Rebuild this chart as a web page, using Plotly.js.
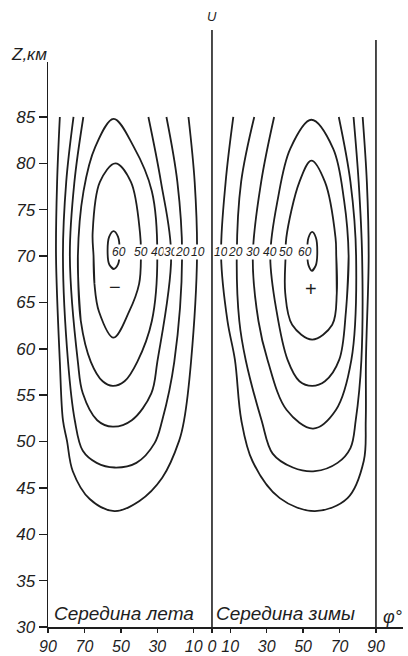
<!DOCTYPE html>
<html>
<head>
<meta charset="utf-8">
<script src="https://cdn.plot.ly/plotly-3.0.1.min.js"></script>
<style>
html,body{margin:0;padding:0;background:#fff;}
#chart{width:408px;height:656px;}
#chart .xtick text, #chart .ytick text { font-style: italic !important; }
</style>
</head>
<body>
<div id="chart"></div>
<script>
// ---- data (latitude in degrees, height Z in km) ----
// Summer hemisphere (left half, "Середина лета")
var s10_lat = [83.5, 85.0, 85.6, 83.5, 81.8, 79.6, 76.4, 67.1, 53.5, 39.8, 27.3, 18.0, 15.3, 11.5, 8.2, 9.5, 12.9];
var s10_z   = [85.0, 78.0, 70.0, 58.6, 52.3, 50.1, 46.8, 43.8, 42.5, 43.6, 46.1, 50.1, 52.3, 58.6, 70.0, 78.0, 85.0];
var s20_lat = [76.0, 80.0, 81.8, 79.0, 75.3, 70.9, 63.3, 53.5, 41.5, 31.6, 27.3, 20.7, 16.4, 19.0, 25.0];
var s20_z   = [85.0, 78.0, 70.0, 58.6, 52.3, 49.0, 47.7, 47.2, 47.7, 49.8, 52.3, 58.6, 70.0, 78.0, 85.0];
var s30_lat = [70.6, 75.5, 78.0, 73.6, 70.9, 63.0, 54.5, 44.0, 33.3, 30.0, 22.4, 28.0, 34.9];
var s30_z   = [85.0, 78.0, 70.0, 58.6, 55.2, 52.3, 51.6, 52.3, 55.2, 58.6, 70.0, 78.0, 85.0];
var s40_lat = [54.0, 64.0, 70.5, 73.6, 72.0, 66.5, 60.0, 54.5, 48.0, 41.0, 33.0, 30.0, 33.0, 43.0, 54.0];
var s40_z   = [84.8, 81.8, 77.0, 70.0, 63.0, 58.6, 56.5, 56.0, 56.5, 58.6, 63.0, 70.0, 77.0, 81.8, 84.8];
var s50_lat = [53.0, 61.5, 65.5, 65.0, 64.5, 62.0, 54.0, 45.5, 40.0, 39.0, 39.5, 44.5, 53.0];
var s50_z   = [80.0, 78.0, 72.5, 70.0, 67.0, 64.0, 61.2, 64.0, 67.0, 70.0, 72.5, 78.0, 80.0];
var s60_lat = [54.0, 56.4, 57.3, 56.4, 54.0, 51.6, 50.7, 51.6, 54.0];
var s60_z   = [72.7, 72.1, 70.6, 69.1, 68.6, 69.1, 70.6, 72.1, 72.7];

// Winter hemisphere (right half, "Середина зимы")
var w10_lat = [11.7, 7.5, 5.0, 8.5, 12.6, 16.1, 22.2, 37.2, 56.5, 74.4, 83.3, 84.4, 84.5, 86.0, 85.0, 82.7];
var w10_z   = [85.0, 78.0, 70.0, 63.0, 58.8, 52.3, 47.9, 43.9, 42.5, 43.9, 47.9, 52.3, 58.8, 70.0, 78.0, 85.0];
var w20_lat = [23.2, 16.0, 13.6, 15.0, 18.5, 27.2, 33.3, 44.4, 56.5, 68.9, 76.0, 78.9, 82.0, 82.4, 80.5, 77.7];
var w20_z   = [85.0, 78.0, 70.0, 63.0, 58.8, 52.3, 48.7, 47.2, 46.8, 47.7, 49.3, 52.3, 58.8, 70.0, 78.0, 85.0];
var w30_lat = [34.1, 27.0, 22.4, 25.5, 30.5, 41.0, 55.5, 68.0, 76.5, 79.1, 76.0, 69.6];
var w30_z   = [85.0, 78.0, 70.0, 63.0, 58.8, 53.4, 51.4, 53.4, 58.8, 70.0, 78.0, 85.0];
var w40_lat = [54.5, 66.5, 72.5, 75.0, 73.5, 69.8, 62.0, 55.0, 48.0, 41.5, 35.5, 32.0, 36.0, 43.0, 54.5];
var w40_z   = [84.7, 81.6, 76.0, 70.0, 64.0, 58.8, 56.5, 56.0, 56.5, 58.8, 64.0, 70.0, 76.0, 81.6, 84.7];
var w50_lat = [54.5, 62.0, 67.8, 68.2, 68.5, 66.0, 55.0, 44.0, 40.2, 40.4, 40.8, 48.0, 54.5];
var w50_z   = [80.3, 78.0, 72.0, 70.0, 66.0, 62.6, 61.0, 62.6, 66.0, 70.0, 72.0, 78.0, 80.3];
var w60_lat = [55.0, 57.0, 57.8, 57.0, 55.0, 53.0, 52.3, 53.0, 55.0];
var w60_z   = [72.6, 72.0, 70.5, 69.0, 68.4, 69.0, 70.5, 72.0, 72.6];

// contour labels (value, latitude) on the Z = 70.4 km level
var labelZ = 70.4;
var summerLabels = ['60', '50', '40', '30', '20', '10'];
var summerLabelLat = [51.0, 39.0, 29.7, 22.4, 16.4, 7.9];
var winterLabels = ['10', '20', '30', '40', '50', '60'];
var winterLabelLat = [4.9, 13.1, 22.4, 31.6, 40.4, 51.3];

// axis ticks
var xTickLat = [90, 70, 50, 30, 10, 0, 10, 30, 50, 70, 90];
var xTickSide = [-1, -1, -1, -1, -1, 0, 1, 1, 1, 1, 1];
var yTicks = [30, 35, 40, 45, 50, 55, 60, 65, 70, 75, 80, 85];

// ---- build the figure ----
var INK = '#1e1e1e';
var FONTW = '"Liberation Sans", Arial, sans-serif';

function curve(lat, z, side, closed) {
  var x = lat.map(function (v) { return side * v; });
  var y = z.slice();
  if (closed) {
    // start the closed loop on its steep poleward flank so the spline join is invisible
    var n = x.length - 1, s = 3, xx = [], yy = [];
    for (var i = 0; i <= n + 1; i++) { var k = (s + i) % n; xx.push(x[k]); yy.push(y[k]); }
    x = xx; y = yy;
  }
  return {type: 'scatter', mode: 'lines', x: x, y: y, hoverinfo: 'skip',
          line: {color: INK, width: 1.8, shape: 'spline', smoothing: 1}};
}

var traces = [
  curve(s10_lat, s10_z, -1, false), curve(s20_lat, s20_z, -1, false), curve(s30_lat, s30_z, -1, false),
  curve(s40_lat, s40_z, -1, true), curve(s50_lat, s50_z, -1, true), curve(s60_lat, s60_z, -1, true),
  curve(w10_lat, w10_z, 1, false), curve(w20_lat, w20_z, 1, false), curve(w30_lat, w30_z, 1, false),
  curve(w40_lat, w40_z, 1, true), curve(w50_lat, w50_z, 1, true), curve(w60_lat, w60_z, 1, true)
];

var ann = [];
function lab(text, x, y, font, extra) {
  var a = {text: text, x: x, y: y, xref: 'x', yref: 'y', showarrow: false, font: font};
  for (var k in (extra || {})) a[k] = extra[k];
  ann.push(a);
}
var labFont = {family: FONTW, size: 12, color: INK, style: 'italic'};
summerLabels.forEach(function (t, i) {
  lab(t, -summerLabelLat[i], labelZ, labFont, {bgcolor: '#ffffff', borderpad: 0});
});
winterLabels.forEach(function (t, i) {
  lab(t, winterLabelLat[i], labelZ, labFont, {bgcolor: '#ffffff', borderpad: 0});
});
lab('−', -53, 66.7, {family: FONTW, size: 20, color: INK});
lab('+', 54.6, 66.4, {family: FONTW, size: 20, color: INK});
var bigItalic = {family: FONTW, size: 19, color: INK, style: 'italic'};
lab('Середина лета', -88, 31.5, bigItalic, {xanchor: 'left'});
lab('Середина зимы', 1.2, 31.5, bigItalic, {xanchor: 'left'});
lab('φ°', 98.8, 31.1, {family: FONTW, size: 18, color: INK, style: 'italic'});
ann.push({text: 'Z,км', xref: 'paper', yref: 'paper', x: -0.054, y: 1.014,
          xanchor: 'center', yanchor: 'middle', showarrow: false,
          font: {family: FONTW, size: 17, color: INK, style: 'italic'}});
ann.push({text: 'U', xref: 'x', yref: 'paper', x: 0, y: 1.08, xanchor: 'center', yanchor: 'middle',
          showarrow: false, font: {family: FONTW, size: 13, color: INK, style: 'italic'}});

var layout = {
  width: 408, height: 656,
  margin: {l: 48, r: 5, t: 62, b: 29, pad: 0},
  paper_bgcolor: '#ffffff', plot_bgcolor: '#ffffff',
  showlegend: false,
  xaxis: {
    range: [-90, 104.84], tickmode: 'array',
    tickvals: xTickLat.map(function (v, i) { return v * xTickSide[i]; }),
    ticktext: xTickLat.map(String),
    ticks: 'outside', ticklen: 4, tickwidth: 1.4, tickcolor: INK, tickangle: 0,
    showline: true, linecolor: INK, linewidth: 1.5,
    showgrid: false, zeroline: false, fixedrange: true,
    tickfont: {family: FONTW, size: 16, color: INK, style: 'italic'}
  },
  yaxis: {
    range: [30, 90.93], tickmode: 'array', tickvals: yTicks,
    ticktext: yTicks.map(String),
    ticks: 'outside', ticklen: 8, tickwidth: 1.4, tickcolor: INK,
    showline: true, linecolor: INK, linewidth: 1.5,
    showgrid: false, zeroline: false, fixedrange: true,
    tickfont: {family: FONTW, size: 17, color: INK, style: 'italic'}
  },
  shapes: [
    {type: 'line', xref: 'x', yref: 'paper', x0: 0, x1: 0, y0: 0, y1: 1.0566, line: {color: INK, width: 1.6}},
    {type: 'line', xref: 'x', yref: 'paper', x0: 90, x1: 90, y0: 0, y1: 1.039, line: {color: INK, width: 1.6}}
  ],
  annotations: ann
};

Plotly.newPlot('chart', traces, layout, {displayModeBar: false, staticPlot: true});
</script>
</body>
</html>
